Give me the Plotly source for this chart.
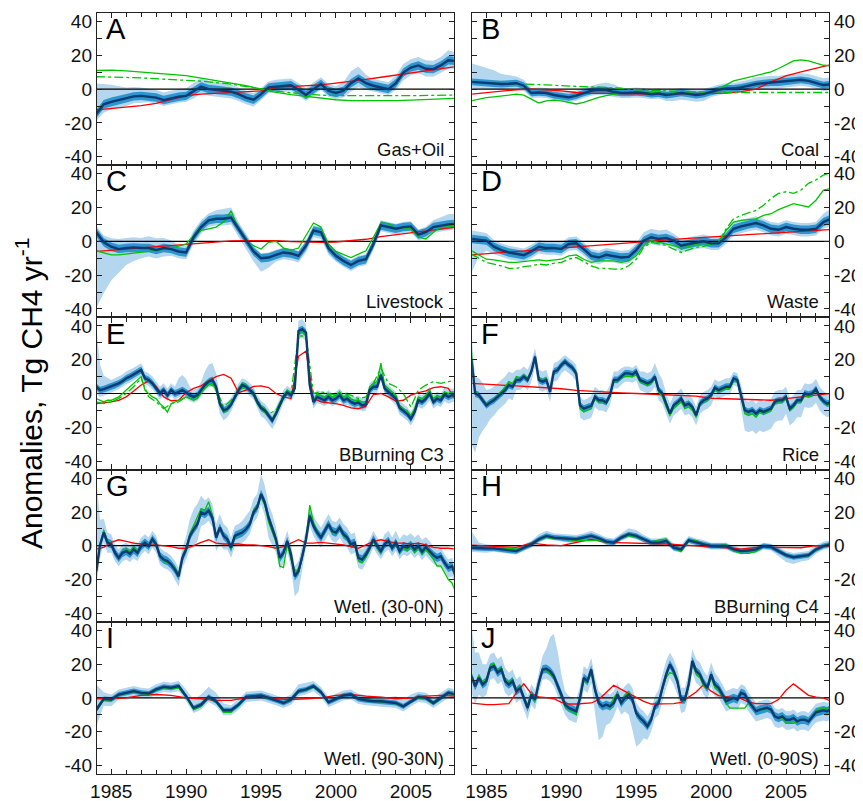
import plotly.graph_objects as go
from plotly.subplots import make_subplots

# ---------------- time grids (years) ----------------
T4 = [1984 + 0.25 * i for i in range(97)]   # quarterly
T2 = [1984 + 0.5 * i for i in range(49)]    # half-yearly
T1 = [1984 + 1.0 * i for i in range(25)]    # yearly

# ---------------- tick labels ----------------
x_ticks = [1985, 1990, 1995, 2000, 2005]
y_ticks = [-40, -20, 0, 20, 40]
y_ticktext = ["-40", "-20", "0", "20", "40"]

# ---------------- A: Gas+Oil ----------------
a_mean = [-14.7, -9, -7.5, -6.3, -5.5, -4.3, -4, -4.3, -5, -6.5, -5.5, -4.5,
          -4, -1.5, 1.5, 0, -0.5, -1, -1.5, -3, -5, -6.3, -3, 1,
          1.5, 2, 2.3, -0.4, -3.5, 0, 3, -1, -2.3, -1, 3.5, 6.3,
          3.5, 2, 1, 0, 3.5, 9.8, 12.7, 14, 12, 11.8, 14, 17, 16.6]
a_up = [18, 12, 10, 8, 6.5, 5.5, 5, 4.5, 4.5, 4.5, 4.5, 4.5,
        4.5, 5, 5, 5, 4.5, 4.5, 4, 4, 4, 4, 3.5, 3.5,
        4, 4, 4, 4, 4, 4, 4, 4, 4, 5, 7, 7,
        5, 4, 4, 4, 4.5, 5, 5, 5, 5, 5, 5, 6, 5]
a_dn = [4, 5, 4.5, 4.5, 4.5, 4, 4, 3.5, 3.5, 3.5, 3.5, 3.5,
        3.5, 4, 4, 4, 4, 4, 4, 4, 4, 4, 3.5, 3.5,
        3.5, 3.5, 3.5, 3.5, 3.5, 3.5, 3.5, 3.5, 3.5, 4, 5, 5,
        4, 3.5, 3.5, 3.5, 4, 4.5, 4.5, 4.5, 4.5, 4.5, 4.5, 5, 4.5]
a_in = 2.5
a_red = [-12.3, -11.5, -10.7, -9.8, -8.5, -6, -3.8, -3, -2.6, -2.2, -1.8, -1, 1,
         1.5, 1.8, 2.5, 3.5, 4.5, 5.8, 7, 8.2, 9.5, 10.8, 12, 13.3]
a_green = [11, 11.2, 10.8, 10.2, 9.3, 8.7, 8, 6.5, 5, 3.5, 2, 0, -2,
           -3.3, -4.3, -5.3, -6.3, -6.8, -6.9, -6.9, -6.8, -6.5, -6.2, -5.8, -5.5]
a_green2 = [7.3, 7.3, 6.9, 6.6, 6.2, 5.9, 5.5, 4.7, 3.8, 3, 1.5, 0, -1.2,
            -2.2, -3, -3.6, -3.9, -4, -4, -4, -3.9, -3.9, -3.8, -3.6, -3.5]

# ---------------- B: Coal ----------------
b_mean = [4.3, 4, 3.5, 3.2, 3, 3.2, 3.5, 2, -2.3, -2, -2.3, -3.5,
          -4.3, -4.9, -3.9, -2.3, -1, -0.4, -0.6, -1.6, -2.3, -2.3, -2, -2.3,
          -3, -2.6, -3.5, -3, -2.3, -2.8, -3.5, -3, -1.6, -0.4, 0.4, 0.4,
          1, 2, 3, 3.5, 3.9, 3.9, 4.3, 4.9, 5.5, 4.9, 3.5, 2.4, 2.9]
b_up = [11, 10, 9, 8, 6, 5, 4, 3.5, 3, 3, 3, 3,
        3, 3, 3, 3, 3, 3.5, 4.5, 4.5, 3, 3, 3, 3,
        3, 3, 3, 3, 3, 3, 3, 3, 3, 3, 3, 3,
        3.5, 3.5, 4, 4, 4, 4, 4, 4, 4, 4, 4, 4, 4]
b_dn = [4, 4, 3.5, 3.5, 3, 3, 3, 3, 3, 3, 3, 3,
        3, 3, 3, 3, 3, 3, 3, 3, 3, 3, 3, 3,
        3, 3, 3.5, 4, 4, 4, 4, 4, 3, 3, 3, 3,
        3, 3, 3.5, 3.5, 3.5, 3.5, 3.5, 3.5, 3.5, 3.5, 3.5, 3.5, 3.5]
b_in = 2
b_red = [-3, -2, -1.2, -0.5, 0, -0.5, -1, -2, -2.5, -2.5, -2.8, -3, -3,
         -2.8, -2.6, -2.5, -2.4, -2.4, -1.5, 0, 4.3, 7.8, 10.2, 12.2, 14.5]
b_green = [-6.9, -5.9, -5, -4.6, -4.3, -3.6, -3, -3.6, -5.9, -8.2, -6.9, -6.5,
           -6.9, -7.8, -8.8, -7.8, -6.3, -4.9, -3.9, -2.9, -2.3, -1.6, -1.6, -2,
           -2.3, -2.3, -3, -2.3, -2.3, -2.3, -3, -2.3, -2.3, 0, 2.4, 4.9,
           5.9, 6.9, 7.8, 8.8, 10.2, 12.2, 14.7, 16.7, 17.3, 16.7, 15.3, 14.1, 13.7]
b_green2 = [3.9, 3.7, 3.5, 3.3, 3, 2.5, 2, 1.7, 1.3, 1, 0.5, -0.4, -0.8,
            -1.2, -1.6, -1.8, -2, -2, -2, -2, -2, -2, -2, -2, -2]

# ---------------- C: Livestock ----------------
c_mean = [5.4, -0.6, -3.2, -4.6, -4, -3.6, -4, -4, -5.2, -4, -4.6, -6,
          -6.6, 2.4, 8.4, 12.4, 13.3, 13.3, 14, 7.4, 0.4, -6, -10, -9.6,
          -8, -6.6, -7.2, -8.6, -2.6, 6.4, 5.4, -4, -8.6, -11.6, -14, -11.6,
          -10.6, -1.6, 9.4, 8.4, 7.4, 8.4, 8.8, 4, 5.4, 8.4, 9.4, 10, 10.4]
c_up = [4, 4, 5, 6, 6, 6, 6, 7, 7, 6, 5, 4,
        4, 4, 4, 4, 5, 6, 6, 4, 4, 3.5, 3, 3,
        3, 3, 3, 3, 3, 3, 3, 3, 3, 3, 3, 3,
        3, 3, 3, 3, 3, 3, 3, 3, 3, 4, 5, 6, 6]
c_dn = [45, 30, 20, 14, 10, 8, 6, 5, 5, 5, 4, 4,
        4, 4, 4, 4, 4, 4, 4, 4, 5, 6, 8, 6,
        4, 4, 4, 4, 4, 4, 4, 4, 3.5, 3.5, 3.5, 3.5,
        3.5, 3.5, 3.5, 3.5, 3.5, 3.5, 3.5, 3.5, 3.5, 3.5, 3.5, 3.5, 3.5]
c_in = 2.5
c_red = [-6, -5.3, -4.6, -3.9, -3.2, -2.4, -1.6, -0.9, -0.2, 0.2, 0.4, 0.4, 0.4,
         -0.2, -0.6, -0.6, -0.4, 0.4, 1.2, 2.8, 4, 4.8, 6, 7.4, 8.4]
c_green = [-5.6, -7, -8, -8, -7.6, -7, -6.6, -6, -5.2, -4.6, -4, -2.8,
           -1.6, 3.4, 6.4, 7.4, 8.4, 11.4, 18, 7.4, 0.4, -2.6, -4.6, -0.6,
           0, -4, -5.2, -4, 3.4, 10.8, 8.4, -1.6, -6, -7.6, -9.6, -7.6,
           -5.6, 2.4, 10.8, 10.4, 7.4, 7.4, 7.4, 2.4, 1.4, 5.4, 8.4, 8.4, 9.4]

# ---------------- D: Waste ----------------
d_mean = [1.4, 0.8, 0.4, -3.2, -5.2, -6.6, -7.6, -8.2, -6, -3.2, -4, -4,
          -4.6, -1.6, -1.2, -4.6, -8.6, -9.6, -8, -8.6, -9.6, -9.2, -5.2, 0.4,
          2.4, 1.4, 2, 0.4, -2.6, -1.6, -0.6, 0, -1.2, -1.2, 2.4, 7.4,
          8.8, 10, 10.8, 9.4, 7.4, 6.8, 8.4, 7.4, 6.8, 6.8, 7.4, 11.4, 13.3]
d_up = [5, 5, 4.5, 4, 4, 4, 4, 4, 4, 4, 4, 4,
        4, 4, 4, 4, 4, 4, 4, 4, 4, 4, 4, 5,
        5, 5, 5, 4, 4, 4, 4, 4, 4, 4, 4, 4,
        4, 4, 4, 4, 4, 4, 4, 4, 4, 4, 4, 5, 6]
d_dn = [20, 10, 6, 4.5, 4, 4, 4, 4, 4, 4, 4, 4,
        4, 4, 4, 4, 4, 4, 4, 4, 4, 4, 4, 4,
        4, 4, 4, 4, 4, 4, 4, 4, 4, 4, 4, 4,
        4, 4, 4, 4, 4, 4, 4, 4, 4, 4, 4, 4, 4]
d_in = 2.5
d_red = [-8, -7.3, -6.6, -5.9, -5.2, -4.5, -3.8, -3.1, -2.4, -1.7, -1, -0.4, 0.2,
         0.8, 1.4, 2, 2.6, 3.2, 3.8, 4.3, 4.8, 5.4, 6, 6.5, 7]
d_green = [-5.6, -8, -10.6, -11, -11.6, -12.5, -12.5, -12, -11.6, -11, -11.6, -11,
           -10.6, -8.6, -8, -10.6, -12.5, -11.6, -11.6, -11.6, -12.5, -11.6, -8.6, -2.6,
           0.4, -0.6, -1.2, -2.6, -4, -3.2, -1.6, -1.2, -1.6, -0.6, 6.4, 11.4,
           12.4, 12.8, 13.3, 15.3, 16.3, 18.7, 20.3, 22.3, 21.3, 20.3, 24.3, 30.3, 31.3]
d_green2 = [-7.6, -10, -12.5, -13.5, -14.5, -16, -16, -15, -14.5, -13.5, -14, -13,
            -12.5, -10.6, -9.6, -12, -14.5, -16, -16, -16.5, -16.5, -14.5, -10.6, -3.6,
            -0.6, -1.5, -2.5, -4.6, -6.6, -5, -3.6, -3, -2, -0.6, 7.4, 13.3,
            15.3, 16.7, 18.3, 21.3, 25.3, 28.3, 29.3, 28.3, 30.3, 34.3, 36.3, 39.2, 40.6]

# ---------------- E: BBurning C3 ----------------
e_mean = [4, 2, 2.6, 3.4, 4, 5, 6, 7.3, 9, 10, 11.3, 12.5,
          13.9, 9, 8, 6, 3, 0, 2, -1, 2, 0, 1, 2,
          0.6, -1, -2, -1, 2, 5, 7, 8, 4, -6, -10, -9,
          -6.5, -2, 2, 5, 4, 2, 0, -5, -8.5, -10, -13, -16,
          -12, -7, -2, 0.6, -1, 3, 37, 38, 36, 5, -5, -2,
          -3, -4, -2, -4, -3, -1, -4, -3, -5, -6, -5.3, -7,
          -6.5, 2, 4, 4, 11, 3, 1, -1, -3, -8.5, -10, -12,
          -15, -11, -4, -5, -3, 0, -5, -3, -4, -0.6, -2, -1, -1]
e_up = [36, 15, 8, 6, 4, 4, 4, 4, 4, 4, 4, 4,
        4, 4, 4, 4, 4, 4, 4, 4, 4, 4, 8, 9,
        8, 5, 4, 4, 5, 8, 10, 10, 8, 4, 4, 4,
        4, 4, 4, 4, 4, 4, 4, 4, 4, 4, 4, 4,
        4, 4, 4, 4, 4, 5, 6, 6, 5, 4, 4, 4,
        4, 4, 4, 4, 4, 4, 4, 4, 4, 4, 4, 4,
        4, 4, 4, 4, 5, 4, 4, 4, 4, 4, 4, 4,
        4, 4, 4, 4, 4, 4, 4, 4, 4, 4, 4, 4, 4]
e_dn = [4, 4, 4, 4, 3.5, 3.5, 3.5, 3.5, 3.5, 3.5, 3.5, 3.5,
        3.5, 3.5, 3.5, 3.5, 3.5, 3.5, 3.5, 3.5, 3.5, 3.5, 3.5, 3.5,
        3.5, 3.5, 3.5, 3.5, 3.5, 3.5, 3.5, 3.5, 4, 6, 6, 5,
        4, 3.5, 3.5, 3.5, 3.5, 3.5, 3.5, 4, 5, 5, 5, 5,
        5, 4, 3.5, 3.5, 3.5, 4, 5, 5, 5, 5, 4, 3.5,
        3.5, 3.5, 3.5, 3.5, 3.5, 3.5, 3.5, 3.5, 3.5, 3.5, 3.5, 3.5,
        3.5, 3.5, 3.5, 3.5, 3.5, 3.5, 3.5, 3.5, 4, 4, 4, 4,
        4, 4, 4, 4, 4, 4, 4, 4, 4, 4, 4, 4, 4]
e_in = 2
e_red = [-6, -5.7, -5, -4, -2, 1.5, 5, 7.5, 4, -2, -4.3, -4,
         0.5, 3, 4.5, 7.5, 10, 11.3, 9, 0.5, 2, 4.2, 4.5, 3.5,
         0, -2, -3, 22, 25, -3, -5, -5.5, -6, -7, -8.5, -9,
         -7.5, -0.6, 0, -2, -4.5, -4, -1, 0.5, 1.5, 3.5, 4, 3, -4]
e_green = [-3, -4, -5, -4, -4, -3, -2, 0, 2, 4, 6, 8,
           10, 2, 0, -2, -3, -6, -8, -11, -6, -5, -4, -3,
           -2, -3, -4, -3, 0, 3, 5, 6, 2, -7, -11, -10,
           -7, -2, 3, 6, 5, 2, -1, -6, -9, -11, -13, -15,
           -11, -6, -1, 2, 0, 3, 35, 36, 34, 4, -4, 0,
           -1, -2, 0, -2, -1, 1, -2, -1, -3, -4, -4, -5,
           -5, 4, 6, 7, 18, 5, 3, 1, -1, -7, -9, -10,
           -13, -9, -2, -3, -1, 2, -3, -1, -2, 1, 0, 1, 1]
e_green2 = [-5, -6, -5, -3, 0, 4, 9, -2, -5, -9, -6, -5,
            -2, -3, 2, 6, 3, -8, -4, 2, 4, 0, -7, -12,
            -10, -1, 0, 34, 34, 0, 1, 0, -1, 0, -1, -3,
            -2, 6, 15, 6, 4, 0, -8, 2, 5, 7, 6, 7, 8]

# ---------------- F: Rice ----------------
f_mean = [20, 0, -1, -4, -7, -5.3, -4, -2, 0, 2, 5, 4,
          8, 8, 10, 8, 12.9, 21.8, 8, 7, 8, 1, 12.9, 13.9,
          16.8, 18.8, 16.8, 15.2, 11.9, -7, -9, -8, -7.3, -2, -4, -4,
          -5.3, -1, 8, 8, 10, 11.9, 11.9, 11.3, 12.9, 8, 7, 6,
          7, 10, 2, 0, -6, -11.9, -7, -5.3, -3, -7, -6, -8,
          -12.9, -6, -4, -3, -1, 3.4, 2, 3, 4, 4, 8.9, 8,
          -1, -9.9, -10.9, -9.9, -11.9, -9.9, -10.9, -9.9, -8.9, -5, -4, -4,
          -2, -8.9, -7, -4, -4, 0, -0.6, 0, 2.6, -2, -4.5, -6, -5.3]
f_up = [15, 10, 10, 10, 9, 8, 8, 8, 8, 8, 8, 8,
        6, 6, 6, 6, 6, 5, 6, 6, 6, 6, 5, 5,
        4, 4, 4, 4, 5, 5, 5, 5, 6, 6, 6, 6,
        6, 6, 5, 5, 5, 4, 4, 4, 4, 5, 6, 6,
        6, 8, 10, 8, 6, 6, 6, 6, 6, 6, 6, 5,
        5, 5, 5, 5, 5, 5, 5, 5, 5, 5, 4, 4,
        6, 6, 6, 6, 6, 6, 6, 6, 6, 6, 6, 6,
        6, 6, 6, 6, 6, 6, 6, 6, 6, 6, 6, 6, 6]
f_dn = [50, 35, 25, 18, 12, 10, 9, 8, 8, 8, 8, 8,
        6, 6, 6, 6, 6, 6, 6, 6, 6, 6, 6, 6,
        5, 5, 5, 5, 5, 7, 7, 7, 7, 6, 6, 6,
        6, 6, 5, 5, 5, 5, 5, 5, 5, 6, 6, 6,
        6, 6, 6, 6, 6, 6, 6, 6, 6, 6, 6, 6,
        6, 6, 6, 6, 6, 5, 5, 5, 5, 5, 4, 4,
        8, 12, 12, 12, 12, 12, 12, 12, 12, 12, 12, 12,
        10, 10, 10, 10, 10, 8, 8, 8, 8, 8, 8, 8, 8]
f_in = 2
f_red = [6, 5.3, 5, 4.5, 4, 3.6, 2.8, 1.8, 1.2, 0.8, 0.4, 0, -0.4,
         -0.8, -1.2, -1.6, -2.8, -3.2, -3.5, -3.8, -4, -3, -2, -1, 0]
f_green = [25, 1, -1, -4, -6, -5, -3, -1, 1, 4, 7, 6,
           10, 9, 11, 9, 13, 21, 9, 8, 9, 2, 13, 14,
           17, 19, 17, 15, 11, -9, -11, -10, -9, -3, -5, -5,
           -6, -2, 7, 7, 9, 10, 10, 10, 11, 7, 6, 5,
           6, 9, 1, -2, -8, -13, -9, -7, -5, -9, -8, -10,
           -14, -7, -5, -4, -2, 2, 1, 2, 3, 3, 7, 7,
           -2, -12, -13, -12, -14, -11, -12, -11, -10, -6, -5, -5,
           -3, -10, -8, -5, -5, -1, -2, -1, 2, -3, -5, -7, -6]

# ---------------- G: Wetl. (30-0N) ----------------
g_mean = [-15, 0.4, 7.8, 1.8, 0.8, -4.2, -7.2, -4.2, -3.2, -4.8, -2.2, -4.2,
          -0.2, 1.8, -0.2, 3.8, 0.8, -6.2, -8.2, -9.1, -11.1, -14.1, -18.1, -7.2,
          -2.2, 5.8, 9.7, 12.7, 19.7, 18.7, 20.7, 16.7, 4.8, 10.7, 5.8, 3.8,
          -1.2, 5.8, 6.8, 7.8, 9.7, 12.7, 19.7, 22.7, 30.6, 25.6, 16.7, 10.7,
          3.8, -7.2, -4.2, 2.8, -5.2, -18.1, -15.1, -6.2, 3.8, 17.7, 11.7, 7.8,
          4.8, 8.7, 12.7, 8.7, 7.8, 10.7, 6.8, 4.8, 0.8, 1.8, -7.2, -8.2,
          -5.2, -1.2, 3.8, -0.2, -3.2, 0.8, 2.8, -1.2, 1.8, -3.2, -0.2, -1.2,
          0.4, -2.2, -0.2, -3.6, -0.8, -3.2, -5.6, -7.2, -6.2, -10.1, -13.1, -12.1, -18.1]
g_up = [55, 15, 8, 6, 6, 5, 5, 5, 5, 5, 5, 5,
        5, 5, 5, 5, 5, 5, 5, 5, 5, 5, 5, 6,
        8, 10, 12, 12, 10, 8, 8, 8, 8, 8, 7, 7,
        6, 6, 6, 7, 8, 8, 8, 8, 12, 10, 8, 8,
        7, 6, 6, 6, 6, 6, 6, 6, 6, 6, 6, 6,
        6, 6, 6, 6, 6, 6, 6, 6, 6, 6, 6, 6,
        5, 5, 5, 5, 5, 6, 6, 6, 7, 7, 7, 7,
        7, 7, 7, 7, 6, 6, 5, 5, 5, 5, 5, 5, 5]
g_dn = [8, 8, 6, 6, 5, 5, 5, 5, 5, 5, 5, 5,
        5, 5, 5, 5, 5, 5, 5, 5, 5, 6, 6, 6,
        6, 8, 10, 10, 8, 6, 6, 6, 8, 10, 8, 6,
        6, 6, 6, 6, 6, 6, 6, 6, 6, 8, 12, 10,
        8, 7, 6, 6, 8, 12, 12, 8, 6, 6, 6, 6,
        6, 6, 6, 6, 6, 6, 6, 6, 6, 6, 6, 6,
        5, 5, 5, 5, 5, 5, 5, 5, 5, 5, 5, 5,
        5, 5, 5, 5, 5, 5, 5, 5, 5, 5, 6, 6, 6]
g_in = 2.5
g_red = [-2, -1, 2, 3.5, 2.5, 1.5, 1, 0.5, 0.5, 0, -0.5, -1.5,
         -1.5, 0, 2, 3.5, 1.5, 1, 1, 1, 0.5, 0.5, 0, -0.5,
         -1.5, -0.5, 1.5, 3.5, 1.5, 1.5, 2, 1.5, 1, 0.5, -0.5, -1.5,
         0.5, 2.5, 3.5, 2.5, 1.5, 1.5, 1, 1.5, 0.5, -1, -1.5, -1.5, -2]
g_green = [-17, 0, 9, 3, 1, -4, -7, -4, -2, -4, -1, -4,
           0, 2, 0, 4, 0, -6, -9, -10, -11, -13, -17, -7,
           -1, 7, 12, 16, 22, 21, 26, 18, 6, 11, 6, 4,
           -2, 5, 7, 8, 10, 13, 21, 24, 29, 24, 14, 8,
           2, -12, -13, 1, -8, -14, -16, -7, 3, 24, 14, 8,
           5, 9, 13, 8, 7, 10, 6, 4, 0, 1, -9, -10,
           -7, -2, 3, -1, -4, 1, 3, -2, 1, -4, -1, -3,
           0, -4, -1, -5, -2, -5, -8, -12, -12, -16, -20, -22, -28]

# ---------------- H: BBurning C4 ----------------
h_mean = [-1.2, -1.6, -1.6, -1.6, -2.2, -2.8, -3.2, -1.2, 0.8, 3.8, 5.8, 4.8,
          4.4, 3.8, 3.8, 4.8, 5.8, 4.4, 2.4, 1.8, 4.8, 6.8, 5.8, 3.8,
          1.8, 1.8, 2.8, -1.2, -2.2, 3.2, 1.8, 0.8, -0.2, -0.2, -0.2, -2.2,
          -3.2, -2.8, -2.2, -0.2, -0.8, -3.2, -5.6, -6.8, -6.4, -5.6, -2.2, -0.2, 0.8]
h_up = [10, 3.5, 2.5, 2, 2, 2, 2, 2, 2, 3, 3, 2.5,
        2.5, 2.5, 2.5, 2.5, 3, 2.5, 2.5, 2.5, 2.5, 3.5, 3.5, 2.5,
        2.5, 2.5, 2.5, 2.5, 2.5, 2.5, 2.5, 2.5, 2, 2, 2, 2,
        2, 2, 2, 2, 2, 2.5, 2.5, 2.5, 2.5, 2.5, 2.5, 2.5, 2.5]
h_dn = [2.5, 2.5, 2.5, 2, 2, 2, 2, 2, 2, 2, 2, 2,
        2, 2, 2, 2, 2, 2, 2, 2, 2, 2, 2, 2,
        2, 2, 2, 2, 2, 2, 2, 2, 2, 2, 2, 2,
        2, 2, 2, 2, 2, 3, 4, 4, 3, 3, 2.5, 2, 2]
h_in = 1.5
h_red = [0.4, 0, -0.5, -1, 1.5, 0.5, 0, 1.8, 3.8, 2, 1.8, 1.8, 1.4,
         1, 0.5, 0, -0.5, -1.2, -2, -1, -1, -1.2, -1.2, 0, -0.2]
h_green = [-1.5, -2, -2, -2, -1.5, -1.5, -2, -1, 1, 3.5, 5, 4,
           4, 3.5, 3, 3, 3, 3.5, 2, 1.5, 4.5, 6, 5, 3.5,
           2, 3.5, 4, -1, -3.5, 2.5, 3, 1, 0, 0, 0.5, -3,
           -4.5, -4.5, -3.5, -0.5, -1, -3, -5.5, -6.5, -6.5, -6, -2.5, 0, 1]

# ---------------- I: Wetl. (90-30N) ----------------
i_mean = [-7, -0.6, -1, 2, 3, 4, 3, 2.6, 5, 6.5, 6, 7,
          1, -6, -4, 0.6, -2, -7.3, -7.3, -4, 0.6, 1, 1.4, 0,
          -1.4, -3, -1, 4, 5, 7, 3.4, -2.6, -0.6, 1.4, 2, -0.6,
          -1.4, -2, -2, -2.6, -3, -5, -2, 0.6, 0, -3, 0, 3, 2]
i_up = [15, 4, 3, 3, 3, 3, 3, 3, 3, 3, 3, 3,
        4, 5, 6, 6, 5, 4, 3, 3, 3, 3, 3, 3,
        3, 3, 3, 4, 4, 3, 3, 3, 3, 3, 3, 3,
        3, 3, 3, 3, 4, 4, 4, 3, 3, 3, 3, 3, 3]
i_dn = [10, 4, 4, 3, 3, 3, 3, 3, 3, 3, 3, 3,
        3, 3, 3, 3, 3, 3, 3, 3, 3, 3, 3, 3,
        3, 3, 3, 3, 3, 3, 3, 3, 3, 3, 3, 3,
        3, 3, 3, 3, 3, 3, 3, 3, 3, 3, 3, 3, 3]
i_in = 1.5
i_red = [-0.5, -0.5, 0, 1.5, 2, 1.5, 0, -0.5, -1.5, -1.5, 0, 1, -0.5,
         -1, -0.5, 0, 1.5, 2, 1, 0.5, -0.5, 0, 1, 1.5, 1]
i_green = [-8, -1, -1.5, 1.5, 2.5, 3.5, 2.5, 2, 4.5, 6, 5.5, 6,
           0.5, -7, -5, 0, -2.5, -8.5, -8.5, -4.5, 0.5, 1, 1, -0.5,
           -1.5, -3, -1, 3.5, 4.5, 6.5, 3, -2.5, -0.5, 2, 2.5, -0.5,
           -1.5, -2, -2.5, -3, -3.5, -5, -2.5, 0, -0.5, -3.5, -0.5, 2.5, 2]

# ---------------- J: Wetl. (0-90S) ----------------
j_mean = [12.9, 6.9, 11.9, 7.9, 9.9, 17.8, 18.8, 14.9, 16.8, 9.9, 7.9, 9.9,
          4, 5.9, 0, -5.9, 2, -1, 8.9, 16.8, 17.2, 15.8, 12.9, 7.9,
          2, -4, -5.9, -6.9, -7.9, 0, 11.9, 9.9, 16.8, 5, -3, -5,
          -4, -5, -3, 2, -3, 0, 2, -1, -8.9, -11.9, -13.9, -16.8,
          -12.9, -5, -3, 5.9, 13.9, 19.8, 15.8, 9.9, -1, -1, 7.9, 21.8,
          15.8, 13.9, 8.9, 5.9, 13.9, 7.9, 5.9, 2, -2, -1, 0, -1,
          3, 2, -2, -5, -7.9, -6.9, -6.5, -5.9, -6.9, -10.9, -11.9, -10.9,
          -12.9, -12.9, -11.9, -13.9, -12.9, -12.9, -13.9, -10.9, -8.5, -7.9, -7.3, -7.9, -6.5]
j_up = [30, 20, 15, 12, 10, 8, 8, 8, 8, 8, 7, 7,
        7, 7, 7, 7, 6, 6, 6, 8, 12, 20, 25, 20,
        12, 8, 7, 7, 7, 7, 7, 7, 7, 7, 7, 7,
        7, 7, 7, 7, 7, 7, 7, 7, 6, 6, 6, 6,
        6, 6, 8, 8, 8, 7, 7, 7, 7, 7, 7, 7,
        7, 7, 7, 7, 7, 7, 6, 6, 6, 6, 6, 6,
        5, 5, 5, 5, 5, 5, 5, 5, 5, 5, 5, 5,
        5, 5, 5, 5, 5, 5, 5, 5, 5, 5, 5, 5, 5]
j_dn = [10, 10, 10, 8, 8, 7, 7, 7, 7, 7, 7, 7,
        7, 7, 7, 7, 6, 6, 6, 6, 6, 6, 6, 6,
        6, 6, 7, 7, 7, 7, 7, 7, 8, 14, 22, 18,
        12, 10, 8, 7, 7, 8, 12, 18, 20, 15, 10, 8,
        7, 7, 7, 8, 8, 8, 8, 8, 8, 7, 7, 7,
        7, 7, 7, 7, 7, 7, 6, 6, 6, 6, 6, 6,
        6, 6, 6, 6, 6, 6, 6, 6, 6, 6, 6, 6,
        6, 6, 6, 6, 6, 6, 6, 6, 6, 6, 6, 6, 6]
j_in = 2.5
j_red = [-3, -3.5, -4, -4, -3.8, -3.4, 3, 8.3, 2.5, 0.6, 0.2, -0.5,
         -2.6, -3.6, -3.6, -3.4, -3, -1, 3.5, 7.5, 5, 2.5, 0.5, -2,
         -3.6, -3.6, -3.6, -3.4, -2.6, 0.5, 3.5, 7.9, 4, 1.4, 0.8, 0.6,
         -0.4, -2.5, -3.4, -3.4, -3.4, -1, 4.5, 8.3, 5, 1.5, 0.4, 0, -2]
j_green = [14, 8, 13, 9, 11, 19, 20, 16, 18, 11, 9, 11,
           5, 7, 0, -4, 3, -2, 9, 17, 16, 14, 12, 7,
           1, -5, -7, -8, -10, -1, 10, 9, 15, 4, -3, -5,
           -4, -6, 0, 3, -3, 1, 3, -1, -9, -12, -14, -17,
           -13, -5, -2, 5, 12, 15, 14, 9, -1, -2, 7, 20,
           14, 12, 7, 5, 12, 6, 4, 1, -3, -6, -6, -6,
           -6, -6, -3, -5, -7, -7, -7, -6, -7, -11, -12, -12,
           -15, -15, -15, -14, -13, -13, -13, -11, -8, -6, -6, -6, -5]

# ---------------- panel table ----------------
panels = [
    ("A", "Gas+Oil", T2, a_mean, a_up, a_dn, a_in, T1, a_red, T1, a_green, T1, a_green2),
    ("B", "Coal", T2, b_mean, b_up, b_dn, b_in, T1, b_red, T2, b_green, T1, b_green2),
    ("C", "Livestock", T2, c_mean, c_up, c_dn, c_in, T1, c_red, T2, c_green, None, None),
    ("D", "Waste", T2, d_mean, d_up, d_dn, d_in, T1, d_red, T2, d_green, T2, d_green2),
    ("E", "BBurning C3", T4, e_mean, e_up, e_dn, e_in, T2, e_red, T4, e_green, T2, e_green2),
    ("F", "Rice", T4, f_mean, f_up, f_dn, f_in, T1, f_red, T4, f_green, None, None),
    ("G", "Wetl. (30-0N)", T4, g_mean, g_up, g_dn, g_in, T2, g_red, T4, g_green, None, None),
    ("H", "BBurning C4", T2, h_mean, h_up, h_dn, h_in, T1, h_red, T2, h_green, None, None),
    ("I", "Wetl. (90-30N)", T2, i_mean, i_up, i_dn, i_in, T1, i_red, T2, i_green, None, None),
    ("J", "Wetl. (0-90S)", T4, j_mean, j_up, j_dn, j_in, T2, j_red, T4, j_green, None, None),
]

LIGHT = "rgb(180,214,238)"
INNER = "rgb(45,150,208)"
NAVY = "#0c3a72"
GREEN = "#00c400"
RED = "#ff0000"
FONT = "Liberation Sans, Arial, sans-serif"

fig = make_subplots(rows=5, cols=2, vertical_spacing=0, horizontal_spacing=0.025)

for k, (letter, name, tm, mean, up, dn, inner, tr, red, tg, green, tg2, green2) in enumerate(panels):
    r, c = k // 2 + 1, k % 2 + 1
    hi = [m + u for m, u in zip(mean, up)]
    lo = [m - d for m, d in zip(mean, dn)]
    fig.add_trace(go.Scatter(x=tm + tm[::-1], y=hi + lo[::-1], fill="toself",
                             fillcolor=LIGHT, line=dict(width=0), mode="lines",
                             hoverinfo="skip", showlegend=False), row=r, col=c)
    ihi = [m + inner for m in mean]
    ilo = [m - inner for m in mean]
    fig.add_trace(go.Scatter(x=tm + tm[::-1], y=ihi + ilo[::-1], fill="toself",
                             fillcolor=INNER, line=dict(width=0), mode="lines",
                             hoverinfo="skip", showlegend=False), row=r, col=c)
    fig.add_trace(go.Scatter(x=[1983, 2009], y=[0, 0], mode="lines",
                             line=dict(color="black", width=1.2), showlegend=False),
                  row=r, col=c)
    fig.add_trace(go.Scatter(x=tr, y=red, mode="lines",
                             line=dict(color=RED, width=1.3), showlegend=False),
                  row=r, col=c)
    if green2 is not None:
        fig.add_trace(go.Scatter(x=tg2, y=green2, mode="lines",
                                 line=dict(color=GREEN, width=1.3, dash="dashdot"),
                                 showlegend=False), row=r, col=c)
    fig.add_trace(go.Scatter(x=tg, y=green, mode="lines",
                             line=dict(color=GREEN, width=1.3), showlegend=False),
                  row=r, col=c)
    fig.add_trace(go.Scatter(x=tm, y=mean, mode="lines",
                             line=dict(color=NAVY, width=2.4), showlegend=False),
                  row=r, col=c)
    idx = "" if k == 0 else str(k + 1)
    fig.add_annotation(x=0.02, y=1.012, xref=f"x{idx} domain", yref=f"y{idx} domain",
                       text=letter, showarrow=False, xanchor="left", yanchor="top",
                       font=dict(size=29, color="black", family=FONT))
    fig.add_annotation(x=0.978, y=0.02, xref=f"x{idx} domain", yref=f"y{idx} domain",
                       text=name, showarrow=False, xanchor="right", yanchor="bottom",
                       font=dict(size=18.5, color="#111", family=FONT))

for k in range(10):
    r, c = k // 2 + 1, k % 2 + 1
    fig.update_xaxes(range=[1984.05, 2007.87], tickvals=x_ticks,
                     ticks="inside", ticklen=5, tickcolor="#222", mirror="ticks",
                     showline=True, linecolor="#222", linewidth=1.4, showgrid=False,
                     zeroline=False, showticklabels=(r == 5), ticklabelstandoff=0,
                     tickfont=dict(size=19, color="#111", family=FONT),
                     minor=dict(dtick=1, tick0=1984, ticks="inside", ticklen=4, tickcolor="#222"),
                     row=r, col=c)
    fig.update_yaxes(range=[-45, 45], tickvals=y_ticks, ticktext=y_ticktext,
                     ticks="inside", ticklen=5, tickcolor="#222", mirror="ticks",
                     showline=True, linecolor="#222", linewidth=1.4, showgrid=False,
                     zeroline=False, side=("left" if c == 1 else "right"),
                     tickfont=dict(size=19, color="#111", family=FONT),
                     minor=dict(dtick=10, tick0=0, ticks="inside", ticklen=5, tickcolor="#222"),
                     row=r, col=c)

fig.add_annotation(x=-0.0935, y=0.5, xref="paper", yref="paper", textangle=-90,
                   xanchor="center", yanchor="middle",
                   text="Anomalies, Tg CH4 yr<sup>-1</sup>", showarrow=False,
                   font=dict(size=30, color="black", family=FONT))

# page body adds an 8 px margin, so the margins below are shifted to compensate
fig.update_layout(width=863, height=801, paper_bgcolor="white", plot_bgcolor="white",
                  margin=dict(l=89, r=42, t=3, b=35), showlegend=False)

fig.write_html("out.html")
